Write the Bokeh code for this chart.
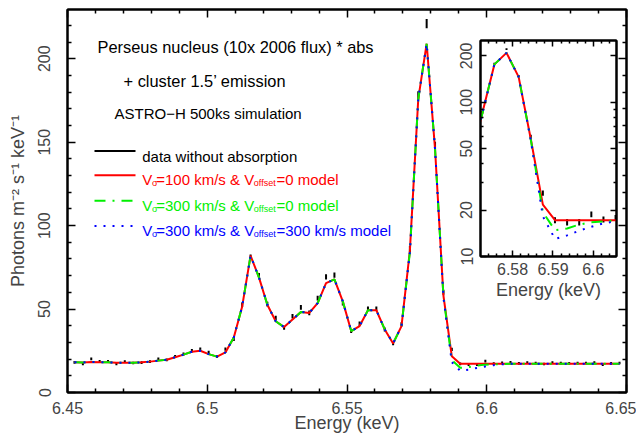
from bokeh.plotting import figure
from bokeh.models import (Range1d, FixedTicker, LinearAxis, LogAxis, CustomJSTickFormatter,
                          ColumnDataSource, Label)
from bokeh.embed import file_html
from bokeh.resources import INLINE

# ---------------- data ----------------
energy = [6.4525, 6.4555, 6.4585, 6.4615, 6.4645, 6.4675, 6.4705, 6.4735, 6.4765, 6.4795,
          6.4825, 6.4855, 6.4885, 6.4915, 6.4945, 6.4975, 6.5005, 6.5035, 6.5065, 6.5095,
          6.5125, 6.5155, 6.5185, 6.5215, 6.5245, 6.5275, 6.5305, 6.5335, 6.5365, 6.5395,
          6.5425, 6.5455, 6.5485, 6.5515, 6.5545, 6.5575, 6.5605, 6.5635, 6.5665, 6.5695,
          6.5725, 6.5755, 6.5785, 6.5815, 6.5845, 6.5875, 6.5905, 6.5935, 6.5965, 6.5995,
          6.6025, 6.6055, 6.6085, 6.6115, 6.6145, 6.6175, 6.6205, 6.6235, 6.6265, 6.6295,
          6.6325, 6.6355, 6.6385, 6.6415, 6.6445, 6.6475]

counts = [18.1, 17.1, 20.1, 18.7, 18.7, 17.1, 18.5, 17.7, 17.9, 18.5,
          20.1, 19.5, 21.5, 23.0, 25.0, 26.0, 24.0, 21.5, 26.0, 32.0,
          52.6, 81.0, 70.0, 53.0, 44.7, 38.8, 45.7, 51.0, 47.7, 56.5,
          69.3, 70.3, 53.6, 36.8, 41.2, 50.2, 50.2, 37.8, 29.4, 40.8,
          86.0, 178.0, 221.0, 148.0, 60.0, 25.8, 17.2, 16.7, 16.7, 18.8,
          17.4, 17.8, 18.1, 17.5, 17.9, 17.7, 17.1, 17.9, 17.7, 17.5,
          17.7, 17.7, 17.9, 16.7, 17.5, 17.7]

errors = [0.8, 0.8, 0.8, 0.8, 0.8, 0.8, 0.8, 0.8, 0.8, 0.8,
          0.8, 0.8, 0.9, 0.9, 1.0, 1.0, 1.0, 0.9, 1.0, 1.1,
          1.4, 1.7, 1.6, 1.4, 1.3, 1.2, 1.3, 1.4, 1.4, 1.4,
          1.6, 1.6, 1.4, 1.2, 1.3, 1.4, 1.4, 1.2, 1.1, 1.3,
          1.8, 2.5, 2.8, 2.3, 1.5, 1.0, 0.8, 0.8, 0.8, 0.8,
          0.8, 0.8, 0.8, 0.8, 0.8, 0.8, 0.8, 0.8, 0.8, 0.8,
          0.8, 0.8, 0.8, 0.8, 0.8, 0.8]

model_v100 = [18.1, 18.0, 18.3, 18.2, 18.1, 17.9, 17.9, 17.9, 18.1, 18.5,
              19.1, 19.6, 21.1, 22.7, 24.4, 25.0, 23.0, 21.5, 24.0, 33.0,
              51.6, 82.0, 69.0, 52.6, 42.7, 39.2, 43.7, 48.3, 47.7, 53.6,
              65.5, 67.8, 54.6, 36.8, 39.8, 49.3, 49.3, 37.8, 29.4, 39.8,
              85.0, 176.0, 209.0, 146.0, 58.0, 21.7, 17.2, 17.2, 17.2, 17.2,
              17.2, 17.2, 17.2, 17.2, 17.2, 17.2, 17.2, 17.2, 17.2, 17.2,
              17.2, 17.2, 17.2, 17.2, 17.2, 17.2]

model_v300 = [18.1, 18.0, 18.3, 18.2, 18.1, 17.9, 17.9, 17.9, 18.1, 18.5,
              19.1, 19.6, 21.1, 22.7, 24.4, 25.0, 23.0, 21.5, 24.0, 33.0,
              51.6, 82.0, 69.0, 52.6, 42.7, 39.2, 43.7, 48.3, 47.7, 53.6,
              65.5, 67.8, 54.6, 36.8, 39.8, 49.3, 49.3, 37.8, 29.4, 39.8,
              84.0, 176.0, 209.0, 146.0, 57.5, 19.4, 14.8, 15.2, 16.1, 16.7,
              16.9, 17.1, 17.2, 17.2, 17.2, 17.2, 17.2, 17.2, 17.2, 17.2,
              17.2, 17.2, 17.2, 17.2, 17.2, 17.2]

model_v300_off300 = [18.1, 18.0, 18.3, 18.2, 18.1, 17.9, 17.9, 17.9, 18.1, 18.5,
                     19.1, 19.6, 21.1, 22.7, 24.4, 25.0, 23.0, 21.5, 24.0, 33.0,
                     51.6, 82.0, 69.0, 52.6, 42.7, 39.2, 43.7, 48.3, 47.7, 53.6,
                     65.5, 67.8, 54.6, 36.8, 39.8, 49.3, 49.3, 37.8, 29.4, 39.8,
                     84.0, 176.0, 209.0, 146.0, 57.0, 18.2, 13.0, 13.7, 14.7, 15.6,
                     16.4, 16.9, 17.2, 17.2, 17.2, 17.2, 17.2, 17.2, 17.2, 17.2,
                     17.2, 17.2, 17.2, 17.2, 17.2, 17.2]

main_xticks = [6.45, 6.5, 6.55, 6.6, 6.65]
main_xminor = [6.46, 6.47, 6.48, 6.49, 6.51, 6.52, 6.53, 6.54, 6.56, 6.57, 6.58, 6.59,
               6.61, 6.62, 6.63, 6.64]
main_yticks = [0, 50, 100, 150, 200]
main_yminor = [10, 20, 30, 40, 60, 70, 80, 90, 110, 120, 130, 140, 160, 170, 180, 190,
               210, 220]
inset_xticks = [6.58, 6.59, 6.6]
inset_xminor = [6.574, 6.576, 6.578, 6.582, 6.584, 6.586, 6.588, 6.592, 6.594, 6.596,
                6.598, 6.602, 6.604]
inset_yticks = [10, 20, 50, 100, 200]
inset_yminor = [30, 40, 60, 70, 80, 90]

FONT = "Liberation Sans"
RED, GREEN, BLUE = "#ff0000", "#00f000", "#0000ff"

lo = [c - e for c, e in zip(counts, errors)]
hi = [c + e for c, e in zip(counts, errors)]
src = ColumnDataSource(dict(energy=energy, counts=counts, lo=lo, hi=hi,
                            m1=model_v100, m2=model_v300, m3=model_v300_off300))

xfmt = "var s = tick.toFixed(2); return s.endsWith('0') ? s.slice(0, -1) : s;"


def style_axis(ax, tin, tmin, lw=2):
    ax.axis_line_width = lw
    ax.major_tick_in = tin
    ax.major_tick_out = 0
    ax.minor_tick_in = tmin
    ax.minor_tick_out = 0
    ax.major_tick_line_width = 1.5
    ax.minor_tick_line_width = 1.5
    ax.major_label_text_font = FONT
    ax.major_label_text_font_size = "16px"
    ax.axis_label_text_font = FONT
    ax.axis_label_text_font_size = "18px"
    ax.axis_label_text_font_style = "normal"


# ---------------- main figure ----------------
# frame on the page: x 67..626, y 9..395
W, H = 636, 435
ML, MR, MT, MB = 67, 10, 9, 40
p = figure(width=W, height=H, x_range=Range1d(6.45, 6.65), y_range=Range1d(0, 229.5),
           output_backend="svg", toolbar_location=None,
           min_border_left=ML, min_border_right=MR, min_border_top=MT, min_border_bottom=MB,
           x_axis_label="Energy (keV)", y_axis_label="Photons m\u207b\u00b2 s\u207b\u00b9 keV\u207b\u00b9")
p.grid.visible = False
p.outline_line_color = "black"
p.outline_line_width = 2
p.border_fill_color = "white"

xt = FixedTicker(ticks=main_xticks, minor_ticks=main_xminor)
yt = FixedTicker(ticks=main_yticks, minor_ticks=main_yminor)
p.xaxis.ticker = xt
p.yaxis.ticker = yt
p.xaxis.formatter = CustomJSTickFormatter(code=xfmt)
for ax in p.xaxis + p.yaxis:
    style_axis(ax, 8, 4)
p.yaxis.major_label_orientation = "vertical"
p.yaxis.major_label_standoff = 17
p.yaxis.axis_label_standoff = 8
p.xaxis.major_label_standoff = 9
p.xaxis.axis_label_standoff = -4

empty = CustomJSTickFormatter(code="return '';")
top = LinearAxis(ticker=xt, formatter=empty, major_label_standoff=0)
right = LinearAxis(ticker=yt, formatter=empty, major_label_standoff=0)
style_axis(top, 8, 4)
style_axis(right, 8, 4)
p.add_layout(top, "above")
p.add_layout(right, "right")

p.segment(x0="energy", y0="lo", x1="energy", y1="hi", source=src, line_color="black", line_width=2)
p.line("energy", "m1", source=src, line_color=RED, line_width=2)
p.line("energy", "m2", source=src, line_color=GREEN, line_width=2, line_dash="11 7 2 7")
p.line("energy", "m3", source=src, line_color=BLUE, line_width=2, line_dash="2 7")

# page-pixel -> data helpers for annotations
FL, FT = ML, MT
FW, FH = W - ML - MR, H - MT - MB


def mx(px):
    return 6.45 + (px - FL) * 0.2 / FW


def my(py):
    return (FT + FH - py) * 229.5 / FH


def label(px, py, text, size, color="black"):
    p.add_layout(Label(x=mx(px), y=my(py), text=text, text_font=FONT,
                       text_font_size=f"{size}px", text_color=color,
                       text_align="left", text_baseline="alphabetic"))


label(97, 46.7, "Perseus nucleus (10x 2006 flux) * abs", 16.4)
label(123, 80.7, "+ cluster 1.5\u2019 emission", 16.4)
label(114, 113.7, "ASTRO\u2212H 500ks simulation", 15)

# legend keys
rows = [(151.7, "black", None), (176.0, RED, None), (201.7, GREEN, "11 7 2 7"), (227.3, BLUE, "2 7")]
for yy, col, dash in rows:
    kw = dict(line_color=col, line_width=2)
    if dash:
        kw["line_dash"] = dash
    p.line([mx(94), mx(135)], [my(yy), my(yy)], **kw)

label(141.7, 156.7, "data without absorption", 15)
leg = [(180.7, RED, "=100 km/s & V", "=0 model"),
       (206.2, GREEN, "=300 km/s & V", "=0 model"),
       (231.7, BLUE, "=300 km/s & V", "=300 km/s model")]
for base, col, mid, tail in leg:
    label(141.7, base, "V", 15, col)
    label(151.5, base + 3.5, "\u03c3", 9, col)
    label(155.7, base, mid, 15, col)
    label(253.3, base + 3.5, "offset", 9, col)
    label(276.0, base, tail, 15, col)

# ---------------- inset ----------------
# frame on the page: x 480..616, y 40..256
IL, IR, IT, IB = 36, 10, 2, 48
IW, IH = IL + 136 + IR, IT + 216 + IB
q = figure(width=IW, height=IH, x_range=Range1d(6.57206, 6.60573), y_range=Range1d(10, 251.4),
           y_axis_type="log", output_backend="svg", toolbar_location=None,
           min_border_left=IL, min_border_right=IR, min_border_top=IT, min_border_bottom=IB,
           x_axis_label="Energy (keV)")
q.grid.visible = False
q.outline_line_color = "black"
q.outline_line_width = 2
q.border_fill_color = None
q.background_fill_color = "white"

ixt = FixedTicker(ticks=inset_xticks, minor_ticks=inset_xminor)
iyt = FixedTicker(ticks=inset_yticks, minor_ticks=inset_yminor)
q.xaxis.ticker = ixt
q.yaxis.ticker = iyt
q.xaxis.formatter = CustomJSTickFormatter(code=xfmt)
q.yaxis.formatter = CustomJSTickFormatter(code="return String(Math.round(tick));")
for ax in q.xaxis + q.yaxis:
    style_axis(ax, 6, 3)
q.yaxis.major_label_orientation = "vertical"
q.yaxis.major_label_standoff = 8
q.xaxis.major_label_standoff = 6
q.xaxis.axis_label_standoff = 2

itop = LinearAxis(ticker=ixt, formatter=empty, major_label_standoff=0)
iright = LogAxis(ticker=iyt, formatter=empty, major_label_standoff=0)
style_axis(itop, 6, 3)
style_axis(iright, 6, 3)
q.add_layout(itop, "above")
q.add_layout(iright, "right")

q.segment(x0="energy", y0="lo", x1="energy", y1="hi", source=src, line_color="black", line_width=2)
q.line("energy", "m1", source=src, line_color=RED, line_width=2)
q.line("energy", "m2", source=src, line_color=GREEN, line_width=2, line_dash="11 7 2 7")
q.line("energy", "m3", source=src, line_color=BLUE, line_width=2, line_dash="2 7")

# the inset sits on top of the main plot
q.styles = {"position": "absolute", "left": f"{480 - IL}px", "top": f"{40 - IT}px", "z-index": "10"}

open("out.html", "w").write(file_html([p, q], INLINE))
